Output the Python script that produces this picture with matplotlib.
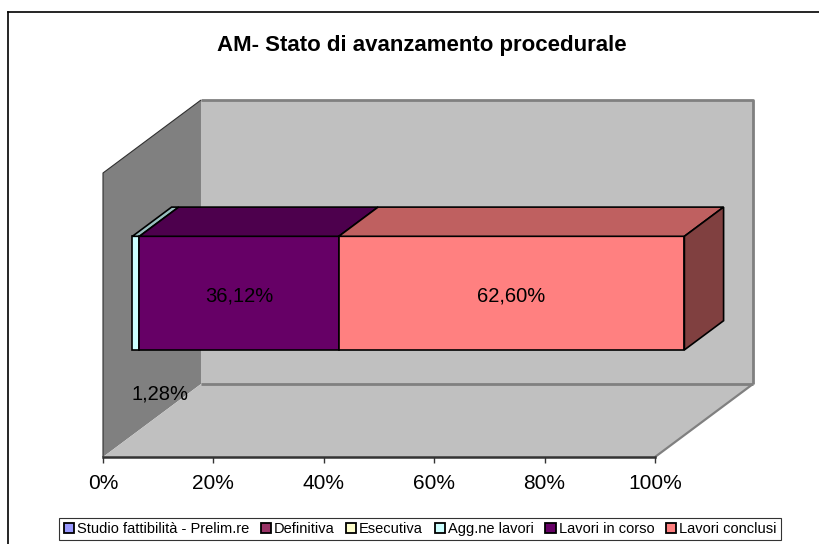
import matplotlib
matplotlib.use("Agg")
import matplotlib.pyplot as plt
from matplotlib.patches import Polygon, Patch
from matplotlib.lines import Line2D
import matplotlib.colors as mcolors

plt.rcParams['font.family'] = ['Liberation Sans', 'DejaVu Sans']

# ---- data ----
title = "AM- Stato di avanzamento procedurale"
categories = ["Studio fattibilità - Prelim.re", "Definitiva", "Esecutiva",
              "Agg.ne lavori", "Lavori in corso", "Lavori conclusi"]
values = [0.0, 0.0, 0.0, 1.28, 36.12, 62.60]
colors = ["#9999FF", "#993366", "#FFFFCC", "#CCFFFF", "#660066", "#FF8080"]
value_labels = ["", "", "", "1,28%", "36,12%", "62,60%"]
ticks = [0, 20, 40, 60, 80, 100]
tick_labels = ["0%", "20%", "40%", "60%", "80%", "100%"]

W, H = 820, 544
fig = plt.figure(figsize=(W / 100, H / 100), dpi=100)
# plot area = front floor edge / wall height
ax = fig.add_axes([103 / W, (H - 457) / H, 552 / W, 284 / H])
ax.set_xlim(0, 100)
ax.set_ylim(0, 1)

# oblique depth projection (depth z in 0..1)
DX, DY = 17.75, 0.257


def P(x, y, z):
    return (x + z * DX, y + z * DY)


def poly(pts, fc, ec="none", lw=0.0, z=1):
    p = Polygon([P(*q) for q in pts], closed=True, facecolor=fc,
                edgecolor=ec, linewidth=lw, clip_on=False, zorder=z,
                joinstyle="miter")
    ax.add_patch(p)


def line(pts, color, lw, z=2):
    xs, ys = zip(*[P(*q) for q in pts])
    ax.add_line(Line2D(xs, ys, color=color, linewidth=lw, clip_on=False,
                       zorder=z, solid_capstyle="butt"))


# walls and floor
poly([(0, 0, 1), (100, 0, 1), (100, 1, 1), (0, 1, 1)], "#C0C0C0", z=1)
poly([(0, 0, 0), (0, 1, 0), (0, 1, 1), (0, 0, 1)], "#808080", z=1)
poly([(0, 0, 0), (100, 0, 0), (100, 0, 1), (0, 0, 1)], "#C0C0C0", z=1.1)
line([(0, 1, 1), (100, 1, 1), (100, 0, 1)], "#808080", 2.0)
line([(0, 0, 1), (100, 0, 1)], "#808080", 2.0)
line([(100, 0, 1), (100, 0, 0)], "#808080", 1.6)
line([(0, 0, 0), (0, 1, 0), (0, 1, 1)], "#303030", 0.8)

# stacked 3D bar
y0, y1, z0, z1 = 0.3, 0.7, 0.3, 0.7


def shade(c, f):
    r, g, b = mcolors.to_rgb(c)
    return (r * f, g * f, b * f)


cum = 0.0
segs = []
for v, c in zip(values, colors):
    segs.append((cum, cum + v, c))
    cum += v
drawn = [s for s in segs if s[1] > s[0]]
for i, (a, b, c) in enumerate(drawn):
    poly([(a, y0, z0), (b, y0, z0), (b, y1, z0), (a, y1, z0)], c,
         "black", 1.2, z=3 + i * 0.1)
    poly([(a, y1, z0), (b, y1, z0), (b, y1, z1), (a, y1, z1)], shade(c, 0.75),
         "black", 1.2, z=3 + i * 0.1)
    if i == len(drawn) - 1:
        poly([(b, y0, z0), (b, y0, z1), (b, y1, z1), (b, y1, z0)],
             shade(c, 0.5), "black", 1.2, z=3 + i * 0.1)

# value labels
LBL = 14.5
for (a, b, c), lab, v in zip(segs, value_labels, values):
    if not lab:
        continue
    cx, cy = P((a + b) / 2, (y0 + y1) / 2, z0)
    if v < 5:
        ax.annotate(lab, (cx, cy), xytext=(24, -101), textcoords="offset pixels",
                    ha="center", va="center", fontsize=LBL, zorder=10,
                    annotation_clip=False)
    else:
        ax.annotate(lab, (cx, cy), xytext=(0, -3), textcoords="offset pixels",
                    ha="center", va="center", fontsize=LBL, zorder=10)

# axis
for s in ["top", "right", "left"]:
    ax.spines[s].set_visible(False)
ax.spines["bottom"].set_color("#333333")
ax.spines["bottom"].set_linewidth(1.8)
ax.spines["bottom"].set_zorder(5)
ax.patch.set_visible(False)
ax.set_xticks(ticks)
ax.set_xticklabels(tick_labels)
ax.set_yticks([])
ax.tick_params(axis="x", length=4, width=1, color="#333333", pad=8,
               labelsize=15)

# title
fig.text(421.5 / W, 1 - 45 / H, title, ha="center", va="center",
         fontsize=16, fontweight="bold")

# legend
handles = [Patch(facecolor=c, edgecolor="black", linewidth=1.3) for c in colors]
leg = fig.legend(handles, categories, loc="center",
                 bbox_to_anchor=(420 / W, 1 - 529 / H), ncol=6,
                 fontsize=10.5, frameon=True, fancybox=False, edgecolor="black",
                 handlelength=0.7, handleheight=0.7, handletextpad=0.2,
                 columnspacing=0.8, borderpad=0.3, borderaxespad=0)
leg.get_frame().set_linewidth(0.8)

# chart outer frame (left and top visible)
fig.add_artist(Line2D([8 / W, 8 / W], [0, 1 - 12 / H], transform=fig.transFigure,
                      color="black", linewidth=1.2))
fig.add_artist(Line2D([8 / W, 1], [1 - 12 / H, 1 - 12 / H],
                      transform=fig.transFigure, color="black", linewidth=1.2))

fig.savefig("out.png", dpi=100, facecolor="white")
